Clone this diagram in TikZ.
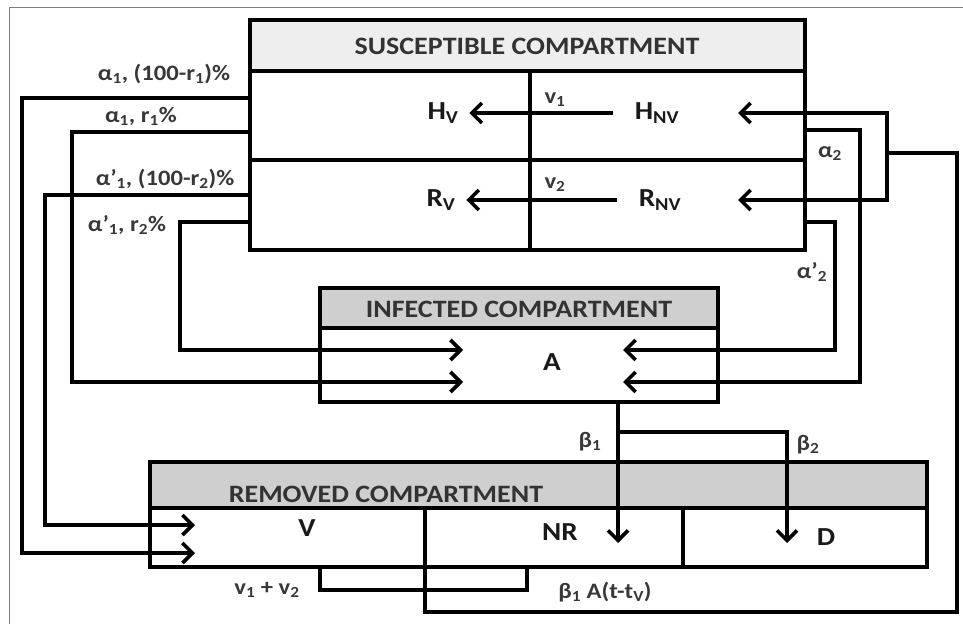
\documentclass[tikz,border=0pt]{standalone}
\usepackage{fontspec}
\setmainfont{Carlito}[FakeStretch=1.12]
\usetikzlibrary{arrows.meta, positioning}

\begin{document}
\begin{tikzpicture}[x=1pt, y=-1pt, line width=3.6pt, >={Straight Barb[length=10pt,width=20pt]},
    head/.style={font=\fontsize{25}{25}\selectfont\bfseries, text=black!80},
    cell/.style={font=\fontsize{26}{26}\selectfont\bfseries, text=black!90, inner sep=9pt},
    rate/.style={font=\fontsize{22}{22}\selectfont\bfseries, text=black!78, inner sep=1pt}]
    \useasboundingbox (0,0) rectangle (963,624);
    \draw[gray, line width=1pt] (9,624) -- (9,7) -- (963,7);

    \draw[fill=gray!13] (250,20) rectangle (805,71);
    \draw (250,71) rectangle (805,250);
    \draw (250,160) -- (805,160);
    \draw (530,71) -- (530,250);
    \draw[fill=gray!38] (320,288) rectangle (718,328);
    \draw (320,328) rectangle (718,402);
    \draw[fill=gray!38] (150,462) rectangle (927,508);
    \draw (150,508) rectangle (927,567);
    \draw (425,508) -- (425,567);
    \draw (683,508) -- (683,567);

    \node[head] (scap) at (527,46) {SUSCEPTIBLE COMPARTMENT};
    \node[head] (icap) at (519,309) {INFECTED COMPARTMENT};
    \node[head] (rcap) at (386,494) {REMOVED COMPARTMENT};

    \node[cell] (hv)  at (443,113) {H\textsubscript{V}};
    \node[cell] (hnv) at (657,113) {H\textsubscript{NV}};
    \node[cell] (rv)  at (441,200) {R\textsubscript{V}};
    \node[cell] (rnv) at (660,200) {R\textsubscript{NV}};
    \node[cell] (a)   at (552,362) {A};
    \node[cell] (v)   at (307,528) {V};
    \node[cell] (nr)  at (560,532) {NR};
    \node[cell] (d)   at (826,537) {D};

    \node[rate] (l1)  at (164,74)  {α\textsubscript{1}, (100-r\textsubscript{1})\%};
    \node[rate] (l2)  at (141,116) {α\textsubscript{1}, r\textsubscript{1}\%};
    \node[rate] (l3)  at (165,179) {α’\textsubscript{1}, (100-r\textsubscript{2})\%};
    \node[rate] (l4)  at (127,225) {α’\textsubscript{1}, r\textsubscript{2}\%};
    \node[rate] (l5)  at (830,154) {α\textsubscript{2}};
    \node[rate] (l6)  at (812,272) {α’\textsubscript{2}};
    \node[rate] (l7)  at (555,100) {v\textsubscript{1}};
    \node[rate] (l8)  at (555,185) {v\textsubscript{2}};
    \node[rate] (l9)  at (590,442) {β\textsubscript{1}};
    \node[rate] (l10) at (808,445) {β\textsubscript{2}};
    \node[rate] (l11) at (267,590) {v\textsubscript{1} + v\textsubscript{2}};
    \node[rate] (l12) at (605,592) {β\textsubscript{1} A(t-t\textsubscript{V})};

    \coordinate (sl1) at (250,98);
    \coordinate (sl2) at (250,132);
    \coordinate (sl3) at (250,195);
    \coordinate (sl4) at (250,222);
    \coordinate (sr1) at (805,130);
    \coordinate (sr2) at (805,222);
    \coordinate (hnvin) at (738,113);
    \coordinate (rnvin) at (738,200);
    \coordinate (ain1) at (463,350);
    \coordinate (ain2) at (463,382);
    \coordinate (ain3) at (623,350);
    \coordinate (ain4) at (623,382);
    \coordinate (vin1) at (195,525);
    \coordinate (vin2) at (195,553);
    \coordinate (aout) at (618,402);
    \coordinate (split) at (618,432);
    \coordinate (nrin) at (618,543);
    \coordinate (din) at (787,543);
    \coordinate (vout) at (320,567);
    \coordinate (nrout) at (527,567);
    \coordinate (rout) at (425,567);
    \coordinate (ret) at (957,612);
    \coordinate (back) at (887,153);

    \draw[->, shorten <=11pt] (hnv) -- (hv);
    \draw[->, shorten <=11pt] (rnv) -- (rv);
    \draw[->] (sl1) -- ++(-228,0) |- (vin2);
    \draw[->] (sl2) -- ++(-178,0) |- (ain2);
    \draw[->] (sl3) -- ++(-205,0) |- (vin1);
    \draw[->] (sl4) -- ++(-70,0) |- (ain1);
    \draw[->] (sr1) -- ++(55,0) |- (ain4);
    \draw[->] (sr2) -- ++(30,0) |- (ain3);
    \draw[->] (aout) -- (nrin);
    \draw[->] (split) -| (din);
    \draw (vout) -- ++(0,23) -| (nrout);
    \draw (rout) |- (ret) |- (back);
    \draw[->] (back) |- (hnvin);
    \draw[->] (back) |- (rnvin);
\end{tikzpicture}
\end{document}
